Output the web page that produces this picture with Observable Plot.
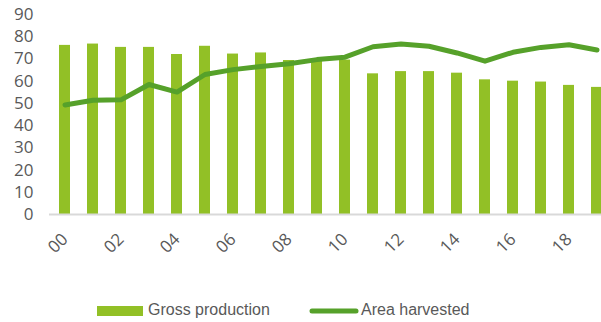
<!DOCTYPE html>
<html>
<head>
<meta charset="utf-8">
<script src="https://cdn.jsdelivr.net/npm/d3@7"></script>
<script src="https://cdn.jsdelivr.net/npm/@observablehq/plot@0.6"></script>
<style>
  html, body { margin: 0; padding: 0; background: #fff; }
  #wrap { position: relative; width: 601px; height: 322px; overflow: hidden; font-family: "Open Sans", sans-serif; }
  #legend { position: absolute; left: 0; top: 290px; width: 601px; height: 32px; }
</style>
</head>
<body>
<div id="wrap">
  <div id="chart"></div>
  <svg id="legend" width="601" height="32"></svg>
</div>
<script>
const years = ["00","01","02","03","04","05","06","07","08","09","10","11","12","13","14","15","16","17","18","19"];
const grossProduction = [76.1, 76.7, 75.2, 75.2, 72.0, 75.7, 72.2, 72.7, 69.3, 69.0, 69.5, 63.3, 64.3, 64.3, 63.6, 60.6, 60.0, 59.6, 58.1, 57.2];
const areaHarvested = [49.3, 51.4, 51.6, 58.5, 55.1, 63.0, 65.2, 66.6, 67.8, 69.7, 70.8, 75.5, 76.7, 75.7, 72.7, 69.0, 73.0, 75.2, 76.4, 74.0];
const yTicks = [0, 10, 20, 30, 40, 50, 60, 70, 80, 90];
const xTicks = ["00","02","04","06","08","10","12","14","16","18"];
const seriesNames = ["Gross production", "Area harvested"];
const barColor = "#92c026";
const lineColor = "#56a12a";

const data = years.map((year, i) => ({year, gross: grossProduction[i], area: areaHarvested[i]}));

const chart = Plot.plot({
  width: 601,
  height: 290,
  marginTop: 14,
  marginBottom: 76,
  marginLeft: 49,
  marginRight: 0,
  style: {fontFamily: "Open Sans, sans-serif", fontSize: "17px", color: "#595959", background: "#fff"},
  x: {domain: years, range: [49, 611], paddingInner: 0.61, paddingOuter: 0.305, ticks: xTicks, tickRotate: -45, tickSize: 0, tickPadding: 22, label: null},
  y: {domain: [0, 90], ticks: yTicks, tickSize: 0, tickPadding: 16, label: null},
  marks: [
    Plot.barY(data, {x: "year", y: "gross", fill: barColor}),
    Plot.ruleY([0], {stroke: "#d9d9d9", strokeWidth: 2}),
    Plot.line(data, {x: "year", y: "area", stroke: lineColor, strokeWidth: 5, strokeLinejoin: "round", strokeLinecap: "round"})
  ]
});
document.getElementById("chart").appendChild(chart);

// Legend
const lg = d3.select("#legend");
const txtStyle = (s) => s.attr("fill", "#595959").attr("font-family", "Liberation Sans, Arial, sans-serif").attr("font-size", 16).attr("dominant-baseline", "middle");
lg.append("rect").attr("x", 97).attr("y", 16).attr("width", 46).attr("height", 10).attr("fill", barColor);
lg.append("text").attr("x", 148).attr("y", 21).text(seriesNames[0]).call(txtStyle);
lg.append("line").attr("x1", 312).attr("x2", 356).attr("y1", 21).attr("y2", 21).attr("stroke", lineColor).attr("stroke-width", 5).attr("stroke-linecap", "round");
lg.append("text").attr("x", 361).attr("y", 21).text(seriesNames[1]).call(txtStyle);
</script>
</body>
</html>
